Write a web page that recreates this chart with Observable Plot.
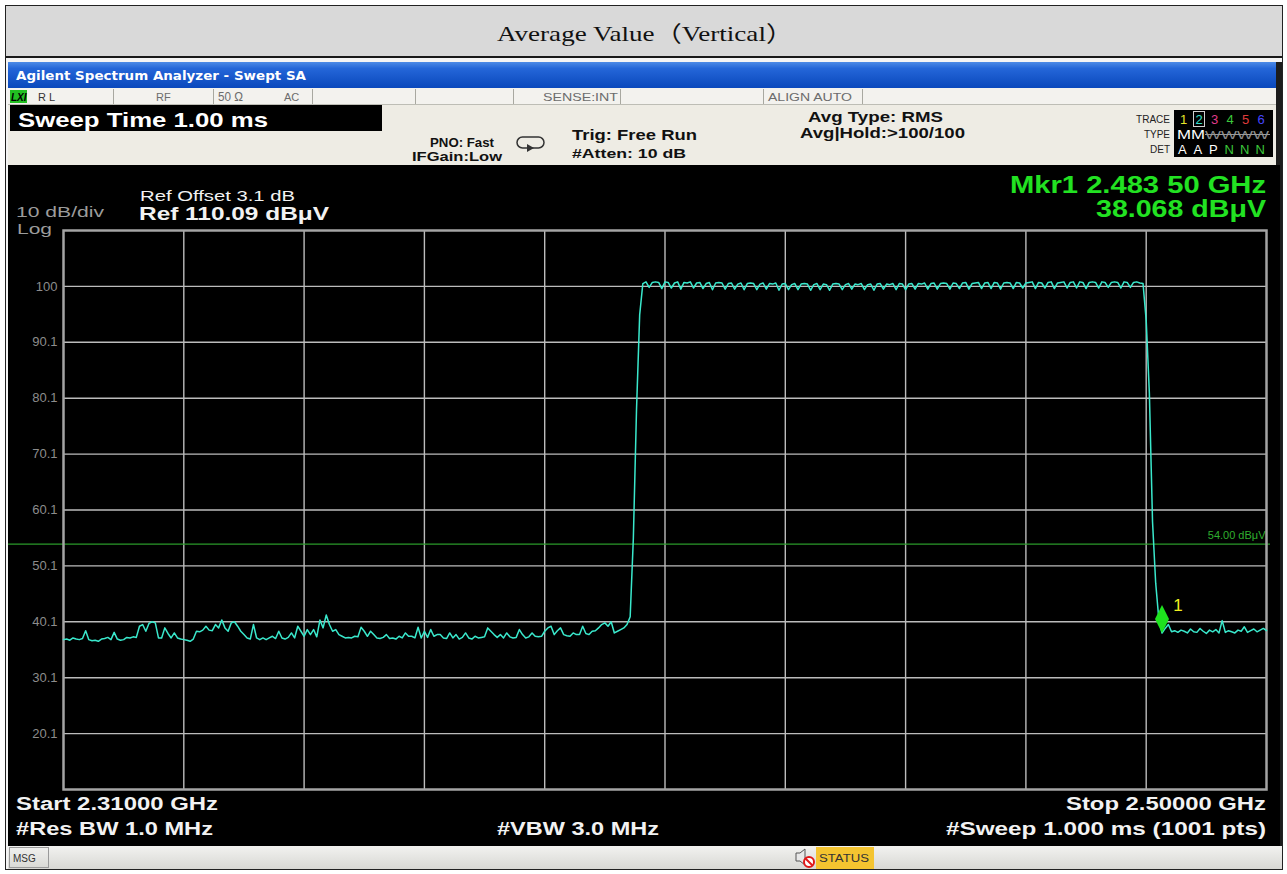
<!DOCTYPE html>
<html><head><meta charset="utf-8">
<script src="https://cdn.jsdelivr.net/npm/d3@7"></script>
<script src="https://cdn.jsdelivr.net/npm/@observablehq/plot@0.6"></script>
<style>
body{margin:0;background:#fff;width:1287px;height:874px;position:relative;overflow:hidden;}
svg{position:absolute;}
</style></head><body>
<script>
// ---------------- DATA ----------------
const sweepStep = 0.0005; // GHz between displayed sweep samples
const startFreq = 2.31, stopFreq = 2.50;
// noise floor left of the band (starts 2.3100 GHz)
const leftNoise = [
36.9,37.0,36.8,37.2,37.0,36.9,37.1,38.5,36.9,36.7,
36.8,36.6,37.0,37.1,37.3,36.9,38.2,37.0,36.8,36.9,
37.3,37.2,37.4,37.3,39.3,39.6,38.4,39.8,40.1,39.9,
37.2,37.2,39.0,38.0,37.2,38.1,37.2,37.0,36.9,36.8,
36.6,37.0,38.4,38.3,38.6,39.3,38.6,38.5,39.6,39.0,
40.4,39.0,38.4,39.9,40.1,39.3,38.4,37.8,37.2,37.0,
39.6,37.2,36.9,37.2,36.9,37.2,37.5,37.1,38.4,37.2,
37.0,37.3,38.1,37.2,39.3,38.4,37.5,38.7,37.8,38.7,
37.4,40.4,39.0,41.3,39.6,38.4,38.7,37.8,37.5,37.2,
37.3,37.2,37.5,37.4,39.1,38.4,37.5,38.4,37.8,37.2,
37.1,37.3,37.8,37.1,37.2,37.0,37.5,37.2,38.1,37.5,
37.5,37.2,39.1,37.2,38.4,37.3,38.7,37.5,37.8,37.8,
37.2,37.1,38.1,37.2,37.8,37.0,37.3,38.1,37.2,37.0,
37.5,37.2,37.3,37.4,39.0,38.4,37.8,37.3,37.8,37.2,
38.1,37.4,37.2,37.3,38.7,37.8,37.2,37.4,38.1,37.5,
37.4,37.5,38.4,39.0,39.3,37.8,38.5,39.0,37.8,37.6,
37.5,38.1,37.8,37.8,39.3,38.0,37.8,38.4,38.5,39.0,
39.6,39.9,39.3,40.1,38.1,38.4,38.7,39.0,39.6];
// rising edge (starts 2.3995 GHz)
const riseEdge = [41.0,55.0,78.0,95.0];
// in-band plateau with ripple (starts 2.4015 GHz)
const plateau = [
100.6,100.9,99.9,100.8,100.9,100.8,99.7,100.9,100.8,99.8,100.7,100.9,99.6,
100.8,100.7,100.9,99.8,100.7,100.8,99.7,100.6,100.8,99.5,100.7,100.8,100.7,99.6,
100.6,100.7,99.6,100.5,100.7,99.5,100.6,100.7,100.6,99.5,100.5,100.7,99.6,
100.6,100.5,100.7,99.4,100.5,100.6,99.5,100.4,100.6,99.5,100.5,100.6,100.5,99.4,
100.4,100.6,99.5,100.5,100.4,99.4,100.5,100.6,100.5,99.5,100.4,100.6,99.6,
100.5,100.4,100.6,99.5,100.4,100.5,99.4,100.5,100.6,99.6,100.5,100.4,100.6,99.5,
100.6,100.5,99.5,100.5,100.6,99.6,100.6,100.5,100.7,99.6,100.6,100.7,99.6,
100.6,100.7,100.6,99.6,100.7,100.6,99.7,100.7,100.8,99.6,100.6,100.7,100.8,99.7,
100.7,100.8,99.7,100.8,100.7,99.6,100.7,100.8,100.7,99.7,100.8,100.7,99.8,
100.7,100.8,100.9,99.7,100.8,100.7,99.8,100.8,100.9,99.7,100.7,100.8,100.9,99.8,
100.8,100.9,99.8,100.9,100.8,99.7,100.8,100.9,100.8,99.8,100.9,100.8,99.9,
100.8,100.9,100.8,99.8,100.9,100.8,99.9,100.8,100.9,100.7,100.6];
// falling edge (starts 2.4810 GHz)
const fallEdge = [94.0,81.0,58.0,47.0,40.5,38.068];
// noise floor right of the band (starts 2.4840 GHz)
const rightNoise = [
38.9,39.6,38.3,38.5,38.2,38.6,38.4,38.1,38.8,38.3,38.2,
38.9,38.4,38.0,38.6,38.3,38.7,38.1,40.3,38.2,38.5,38.3,
38.1,38.6,38.4,39.2,38.2,38.5,38.8,38.3,38.6,38.9,38.5];
const segmentStarts = [2.3100, 2.3995, 2.4015, 2.4810, 2.4840];
const segments = [leftNoise, riseEdge, plateau, fallEdge, rightNoise];

const markerFreq = [2.4835];
const markerLevel = [38.068];
const displayLine = [54.00];

const xGridTicks = [2.329,2.348,2.367,2.386,2.405,2.424,2.443,2.462,2.481];
const yTickValues = [100.09,90.09,80.09,70.09,60.09,50.09,40.09,30.09,20.09];
const yTickLabels = ["100","90.1","80.1","70.1","60.1","50.1","40.1","30.1","20.1"];

const trace = segments.flatMap((vals, s) => vals.map((v, i) => ({f: segmentStarts[s] + i * sweepStep, v})));
const marker = markerFreq.map((f, i) => ({f, v: markerLevel[i]}));

// ---------------- CHROME (instrument screen) ----------------
const W = 1287, H = 874;
const ch = d3.select("body").append("svg").attr("width", W).attr("height", H).style("left", "0px").style("top", "0px");
const defs = ch.append("defs");
const g1 = defs.append("linearGradient").attr("id", "blue").attr("x1", 0).attr("x2", 0).attr("y1", 0).attr("y2", 1);
g1.append("stop").attr("offset", "0").attr("stop-color", "#4c8ae6");
g1.append("stop").attr("offset", "0.25").attr("stop-color", "#2466d8");
g1.append("stop").attr("offset", "1").attr("stop-color", "#0a48bc");
const g2 = defs.append("linearGradient").attr("id", "bar").attr("x1", 0).attr("x2", 0).attr("y1", 0).attr("y2", 1);
g2.append("stop").attr("offset", "0").attr("stop-color", "#f2f2f0");
g2.append("stop").attr("offset", "1").attr("stop-color", "#d8d8d4");

function rect(x, y, w, h, fill, stroke, sw) {
  const r = ch.append("rect").attr("x", x).attr("y", y).attr("width", w).attr("height", h).attr("fill", fill);
  if (stroke) r.attr("stroke", stroke).attr("stroke-width", sw || 1);
  return r;
}
function txt(x, y, s, o = {}) {
  const t = ch.append("text").attr("x", x).attr("y", y).text(s)
    .attr("font-family", o.family || "Liberation Sans, Arial, sans-serif")
    .attr("font-size", o.size || 12).attr("font-weight", o.weight || "normal")
    .attr("fill", o.fill || "#000").attr("text-anchor", o.anchor || "start");
  if (o.len) t.attr("textLength", o.len).attr("lengthAdjust", "spacingAndGlyphs");
  if (o.style) t.attr("font-style", o.style);
  return t;
}

// outer frame + title band
rect(5.5, 5.5, 1277, 864, "#f4f4f4", "#222", 1);
rect(6, 6, 1276, 50, "#d9d9d9");
rect(6, 56, 1276, 2, "#1a1a1a");
txt(645, 41, "Average Value（Vertical）", {family: "Liberation Serif, 'Noto Sans CJK SC', serif", size: 22, anchor: "middle", fill: "#111", len: 296});

// blue caption bar
rect(8, 62, 1268, 26, "url(#blue)");
rect(1276, 62, 6, 784, "#1c1c1c");
txt(16, 80, "Agilent Spectrum Analyzer - Swept SA", {family: "DejaVu Sans, sans-serif", size: 12, weight: "bold", fill: "#fff", len: 290});

// status row
rect(8, 88, 1268, 17, "#f3f2ee");
ch.append("line").attr("x1", 8).attr("x2", 1276).attr("y1", 104.5).attr("y2", 104.5).attr("stroke", "#bdbdb5");
[113, 213, 312, 415, 513, 620, 763, 862].forEach(x => ch.append("line").attr("x1", x + .5).attr("x2", x + .5).attr("y1", 89).attr("y2", 104).attr("stroke", "#a8a8a0"));
rect(10, 90, 17, 13, "#22c022");
txt(11, 101, "LXI", {size: 10, weight: "bold", style: "italic", fill: "#000"});
const stCol = "#6c6c6c";
txt(38, 101, "R L", {size: 11, fill: "#333"});
txt(156, 101, "RF", {size: 11, fill: stCol});
txt(218, 101, "50 Ω", {size: 12, fill: stCol, len: 25});
txt(284, 101, "AC", {size: 11, fill: stCol});
txt(543, 101, "SENSE:INT", {size: 11, fill: stCol, len: 75});
txt(768, 101, "ALIGN AUTO", {size: 11, fill: stCol, len: 84});

// settings panel
rect(8, 105, 1268, 60, "#eeece4");
rect(10, 105, 372, 26, "#000");
txt(18, 127, "Sweep Time 1.00 ms", {size: 21, weight: "bold", fill: "#fff", len: 250});
txt(430, 147, "PNO: Fast", {size: 13, weight: "bold", fill: "#111", len: 64});
txt(412, 161, "IFGain:Low", {size: 13, weight: "bold", fill: "#111", len: 90});
ch.append("rect").attr("x", 517).attr("y", 137).attr("width", 27).attr("height", 11).attr("rx", 5.5).attr("fill", "none").attr("stroke", "#333").attr("stroke-width", 1.5);
ch.append("path").attr("d", "M527,144 L534,148 L527,152 Z").attr("fill", "#333");
txt(572, 140, "Trig: Free Run", {size: 15, weight: "bold", fill: "#111", len: 125});
txt(572, 158, "#Atten: 10 dB", {size: 13, weight: "bold", fill: "#111", len: 114});
txt(808, 122, "Avg Type: RMS", {size: 15, weight: "bold", fill: "#111", len: 135});
txt(800, 138, "Avg|Hold:>100/100", {size: 14, weight: "bold", fill: "#111", len: 165});
txt(1170, 123, "TRACE", {size: 10, anchor: "end", fill: "#222"});
txt(1170, 138, "TYPE", {size: 10, anchor: "end", fill: "#222"});
txt(1170, 153, "DET", {size: 10, anchor: "end", fill: "#222"});
rect(1174, 110, 99, 47, "#000");
const trColors = ["#e6e62a", "#36e0cc", "#e03c8c", "#3cc83c", "#e03c3c", "#4646ff"];
["1", "2", "3", "4", "5", "6"].forEach((c, i) => txt(1180 + i * 15.5, 124, c, {size: 13, fill: trColors[i]}));
ch.append("rect").attr("x", 1193.5).attr("y", 111.5).attr("width", 11).attr("height", 15).attr("fill", "none").attr("stroke", "#cfcfcf");
txt(1177, 139, "MM", {size: 12, fill: "#fff", len: 28});
txt(1205, 139, "WWWW", {size: 10, fill: "#8c8c8c", len: 64});
ch.append("line").attr("x1", 1205).attr("x2", 1270).attr("y1", 134.5).attr("y2", 134.5).attr("stroke", "#9a9a9a");
["A", "A", "P"].forEach((c, i) => txt(1178 + i * 15.5, 154, c, {size: 13, fill: "#fff"}));
["N", "N", "N"].forEach((c, i) => txt(1224.5 + i * 15.5, 154, c, {size: 13, fill: "#3cc83c"}));

// graph screen (black)
rect(8, 165, 1272, 681, "#000");
txt(16, 217, "10 dB/div", {size: 14, fill: "#9c9c9c", len: 88});
txt(17, 234, "Log", {size: 14, fill: "#9c9c9c", len: 35});
txt(140, 201, "Ref Offset 3.1 dB", {size: 15, fill: "#f2f2f2", len: 155});
txt(139, 220, "Ref 110.09 dBμV", {size: 18, weight: "bold", fill: "#f2f2f2", len: 190});
txt(1266, 193, "Mkr1 2.483 50 GHz", {size: 23, weight: "bold", fill: "#22e222", anchor: "end", len: 256});
txt(1266, 217, "38.068 dBμV", {size: 23, weight: "bold", fill: "#22e222", anchor: "end", len: 170});
txt(16, 810, "Start 2.31000 GHz", {size: 18, weight: "bold", fill: "#f2f2f2", len: 202});
txt(16, 835, "#Res BW 1.0 MHz", {size: 18, weight: "bold", fill: "#f2f2f2", len: 197});
txt(497, 835, "#VBW 3.0 MHz", {size: 18, weight: "bold", fill: "#f2f2f2", len: 162});
txt(1266, 810, "Stop 2.50000 GHz", {size: 18, weight: "bold", fill: "#f2f2f2", anchor: "end", len: 200});
txt(1266, 835, "#Sweep  1.000 ms (1001 pts)", {size: 18, weight: "bold", fill: "#f2f2f2", anchor: "end", len: 320});

// message bar
rect(8, 846, 1274, 23, "url(#bar)");
rect(9.5, 847.5, 39, 20, "none", "#9a9a9a", 1);
txt(13, 862, "MSG", {size: 10, fill: "#333"});
ch.append("path").attr("d", "M796,853 h4 l5,-4 v16 l-5,-4 h-4 Z").attr("fill", "#e8e8e8").attr("stroke", "#555");
ch.append("circle").attr("cx", 809).attr("cy", 862).attr("r", 5).attr("fill", "#fff").attr("stroke", "#e01818").attr("stroke-width", 2);
ch.append("line").attr("x1", 805.5).attr("y1", 858.5).attr("x2", 812.5).attr("y2", 865.5).attr("stroke", "#e01818").attr("stroke-width", 2);
rect(816, 847, 58, 22, "#f4c430");
txt(819, 862, "STATUS", {size: 10, fill: "#333", len: 50});

// ---------------- PLOT ----------------
const diamond = {draw(ctx) { ctx.moveTo(0, 0); ctx.lineTo(-7, -14); ctx.lineTo(0, -28); ctx.lineTo(7, -14); ctx.closePath(); }};

const chart = Plot.plot({
  width: 1272, height: 681,
  marginLeft: 55, marginRight: 14, marginTop: 65, marginBottom: 57,
  style: {background: "transparent", color: "#8c8c8c", fontFamily: "Liberation Sans, Arial, sans-serif", fontSize: "13px", overflow: "visible"},
  x: {domain: [startFreq, stopFreq], axis: null},
  y: {domain: [10.09, 110.09], axis: null},
  marks: [
    Plot.gridX(xGridTicks, {stroke: "#bcbcbc", strokeOpacity: 1, strokeWidth: 1.4}),
    Plot.gridY(yTickValues, {stroke: "#bcbcbc", strokeOpacity: 1, strokeWidth: 1.4}),
    Plot.axisY(yTickValues, {label: null, tickSize: 0, tickPadding: 6, tickFormat: d => yTickLabels[yTickValues.indexOf(d)], fill: "#8c8c8c", fontSize: 13}),
    Plot.ruleY(displayLine, {stroke: "#2a9a2a", strokeWidth: 1.2, insetLeft: -55, insetRight: -4}),
    Plot.text(displayLine, {y: d => d, frameAnchor: "right", text: d => d.toFixed(2) + " dBμV", textAnchor: "end", dx: -1, dy: -9, fill: "#2fae2f", fontSize: 11}),
    Plot.frame({stroke: "#a4a4a4", strokeWidth: 2.5}),
    Plot.line(trace, {x: "f", y: "v", stroke: "#3ae8cc", strokeWidth: 1.5}),
    Plot.dot(marker, {x: "f", y: "v", symbol: diamond, r: 8, fill: "#1ee21e", stroke: "none"}),
    Plot.text(marker, {x: "f", y: "v", text: () => "1", dx: 16, dy: -28, fill: "#f0f020", fontSize: 17})
  ]
});
chart.style.position = "absolute";
chart.style.left = "8px";
chart.style.top = "165px";
document.body.appendChild(chart);
</script>
</body></html>
